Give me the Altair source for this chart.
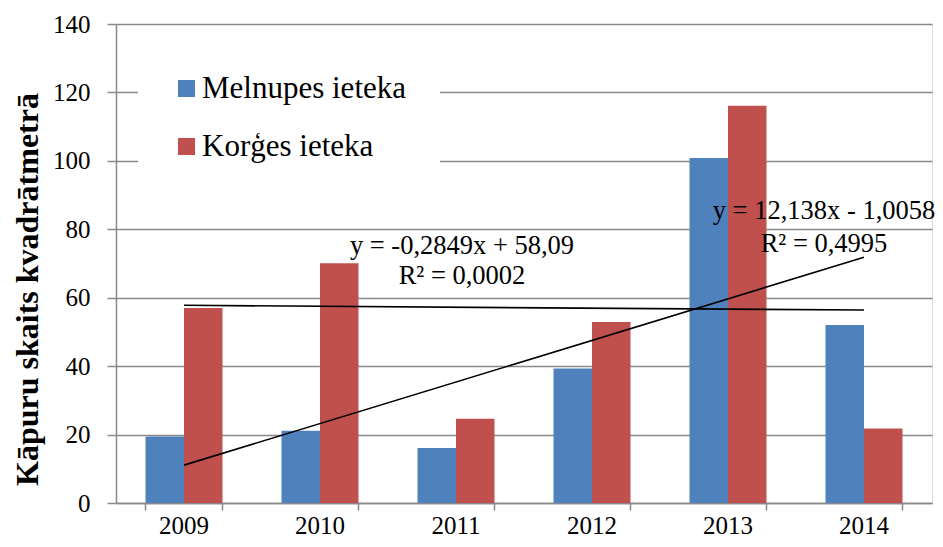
import altair as alt
import pandas as pd
import numpy as np

# ---- data ----
years = ["2009", "2010", "2011", "2012", "2013", "2014"]
melnupes = [19.4, 21.1, 16.1, 39.3, 100.8, 52.0]
korges = [57.0, 70.1, 24.6, 52.9, 116.1, 21.8]
series_names = ["Melnupes ieteka", "Korģes ieteka"]
series_colors = ["#4F81BD", "#C0504D"]
y_ticks = [0, 20, 40, 60, 80, 100, 120, 140]
eq_melnupes = ["y = 12,138x - 1,0058", "R² = 0,4995"]
eq_korges = ["y = -0,2849x + 58,09", "R² = 0,0002"]

SERIF = "Liberation Serif"
GRAY = "#898989"

# ---- tables built from the lists ----
rows = []
for i, yr in enumerate(years):
    rows.append({"year": yr, "series": series_names[0], "value": melnupes[i]})
    rows.append({"year": yr, "series": series_names[1], "value": korges[i]})
bars_df = pd.DataFrame(rows)

# linear trend lines (Excel-style, x = 1..n)
idx = np.arange(1, len(years) + 1)
trend_rows = []
for name, vals in zip(series_names, [melnupes, korges]):
    slope, icpt = np.polyfit(idx, vals, 1)
    for i in [0, len(years) - 1]:
        trend_rows.append({"year": years[i], "series": name, "value": slope * (i + 1) + icpt})
trend_df = pd.DataFrame(trend_rows)

# annotation placement (layout)
ann_blue = pd.DataFrame({"text": eq_melnupes, "year": ["2014", "2014"], "value": [83.1, 73.5]})
ann_red = pd.DataFrame({"text": eq_korges, "year": ["2011", "2011"], "value": [72.9, 63.9]})

x_enc = alt.X(
    "year:N",
    sort=years,
    scale=alt.Scale(domain=years, paddingInner=0.434, paddingOuter=0.217),
    axis=alt.Axis(
        title=None,
        labelAngle=0,
        labelFont=SERIF,
        labelFontSize=25,
        labelColor="black",
        labelPadding=3,
        tickSize=7,
        tickColor=GRAY,
        tickWidth=1.5,
        bandPosition=1,
        tickExtra=True,
        domainColor=GRAY,
        domainWidth=1.5,
        grid=False,
    ),
)

y_enc = alt.Y(
    "value:Q",
    scale=alt.Scale(domain=[0, 140], nice=False),
    axis=alt.Axis(
        values=y_ticks,
        title="Kāpuru skaits kvadrātmetrā",
        titleFont=SERIF,
        titleFontSize=32,
        titleFontWeight="bold",
        titleColor="black",
        titleAngle=270,
        titleAlign="center",
        titleBaseline="alphabetic",
        titleX=-79,
        titleY=265,
        labelFont=SERIF,
        labelFontSize=25,
        labelColor="black",
        labelPadding=17,
        tickSize=9,
        tickColor=GRAY,
        tickWidth=1.5,
        domainColor=GRAY,
        domainWidth=1.5,
        grid=True,
        gridColor=GRAY,
        gridWidth=1.5,
    ),
)

bars = alt.Chart(bars_df).mark_bar().encode(
    x=x_enc,
    xOffset=alt.XOffset("series:N", sort=series_names,
                        scale=alt.Scale(domain=series_names, paddingInner=0, paddingOuter=0)),
    y=y_enc,
    color=alt.Color(
        "series:N",
        scale=alt.Scale(domain=series_names, range=series_colors),
        legend=alt.Legend(
            orient="none",
            legendX=22,
            legendY=16,
            title=None,
            fillColor="white",
            padding=33,
            labelFont=SERIF,
            labelFontSize=31,
            labelColor="black",
            labelOffset=0,
            labelLimit=500,
            symbolType="square",
            symbolSize=289,
            symbolStrokeWidth=0,
            rowPadding=26,
        ),
    ),
)

trend = alt.Chart(trend_df).mark_line(color="black", strokeWidth=1.6).encode(
    x=alt.X("year:N", sort=years),
    y=alt.Y("value:Q"),
    detail="series:N",
)

txt_style = dict(font=SERIF, fontSize=26.5, color="black", align="center", baseline="alphabetic")
text_blue = alt.Chart(ann_blue).mark_text(dx=-40, **txt_style).encode(
    x=alt.X("year:N", sort=years), y=alt.Y("value:Q"), text="text:N"
)
text_red = alt.Chart(ann_red).mark_text(dx=6, **txt_style).encode(
    x=alt.X("year:N", sort=years), y=alt.Y("value:Q"), text="text:N"
)

chart = alt.layer(bars, trend, text_blue, text_red).properties(
    width=816,
    height=479,
    autosize=alt.AutoSizeParams(type="none"),
    padding={"left": 108, "top": 16, "right": 3, "bottom": 36},
).configure_view(stroke=None).configure(background="white")

chart.save("out.html", embed_options={"renderer": "svg", "actions": False})
